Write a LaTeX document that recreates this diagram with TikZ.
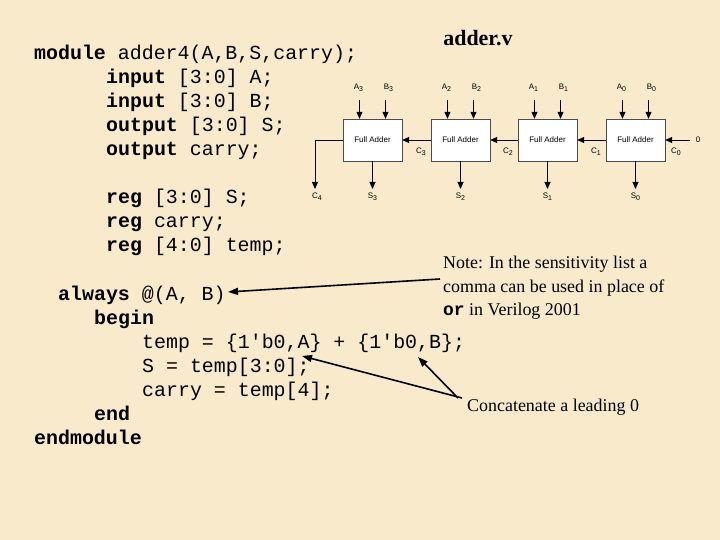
\documentclass[tikz,border=0pt]{standalone}
\usepackage{fontspec}
\setmainfont{Liberation Serif}
\setmonofont{Liberation Mono}
\setsansfont{Liberation Sans}
\usetikzlibrary{positioning}
\usetikzlibrary{arrows.meta}
\definecolor{paper}{HTML}{F8EACB}
\tikzset{
  fa/.style={draw=black!70, fill=white, minimum width=59bp, minimum height=42bp, font=\sffamily\fontsize{8}{8}\selectfont},
  sig/.style={font=\sffamily\fontsize{8}{8}\selectfont, inner sep=1pt},
  wire/.style={-{Triangle[length=7bp,width=6bp]}, line width=0.8bp},
  code/.style={anchor=base west, font=\ttfamily\fontsize{20}{20}\selectfont, inner sep=0pt},
  note/.style={anchor=base west, font=\fontsize{18}{18}\selectfont, inner sep=0pt},
  pointer/.style={-{Triangle[length=10bp,width=7bp]}, line width=1.6bp}
}
\newcommand{\kw}[1]{\textbf{#1}}
\begin{document}
\begin{tikzpicture}[x=1bp,y=-1bp]
\fill[paper] (0,0) rectangle (720,540);
\useasboundingbox (0,0) rectangle (720,540);

%%%%%%%%%% Verilog code %%%%%%%%
\node[code] (l1) at (34,60) {\kw{module} adder4(A,B,S,carry);};
\node[code] (l2) at (106,84) {\kw{input} [3:0] A;};
\node[code] (l3) at (106,108) {\kw{input} [3:0] B;};
\node[code] (l4) at (106,132) {\kw{output} [3:0] S;};
\node[code] (l5) at (106,156) {\kw{output} carry;};
\node[code] (l6) at (106,204) {\kw{reg} [3:0] S;};
\node[code] (l7) at (106,228) {\kw{reg} carry;};
\node[code] (l8) at (106,252) {\kw{reg} [4:0] temp;};
\node[code] (l9) at (58,300) {\kw{always} @(A, B)};
\node[code] (l10) at (94,324) {\kw{begin}};
\node[code] (l11) at (142,348) {temp = \{1'b0,A\} + \{1'b0,B\};};
\node[code] (l12) at (142,372) {S = temp[3:0];};
\node[code] (l13) at (142,396) {carry = temp[4];};
\node[code] (l14) at (94,420) {\kw{end}};
\node[code] (l15) at (34,444) {\kw{endmodule}};

%%%%%%%%%% Title and notes %%%%%%%%
\node[font=\bfseries\fontsize{22}{22}\selectfont] (title) at (478,38) {adder.v};
\node[note] (note1) at (443,269) {Note: In the sensitivity list a};
\node[note] (note2) at (443,292) {comma can be used in place of};
\node[note] (note3) at (443,315) {{\ttfamily\bfseries or} in Verilog 2001};
\node[note] (cat) at (467,411) {Concatenate a leading 0};

\coordinate (n1) at (440,279);
\coordinate (n2) at (228,292);
\coordinate (c0) at (462,398);
\coordinate (c1) at (302,356);
\coordinate (c2) at (458,398);
\coordinate (c3) at (418,357);
\draw[pointer] (n1) -- (n2);
\draw[pointer] (c0) -- (c1);
\draw[pointer] (c2) -- (c3);

%%%%%%%%%% Ripple carry adder %%%%%%%%
\foreach \i/\x in {3/372.5,2/460.5,1/547.5,0/635.5}{
  \node[fa] (fa\i) at (\x,140) {Full Adder};
  \coordinate (a\i) at ([xshift=-13bp]\x,100);
  \coordinate (b\i) at ([xshift=13bp]\x,100);
  \coordinate (s\i) at (\x,189);
  \draw[wire] (a\i) -- (a\i |- fa\i.north);
  \draw[wire] (b\i) -- (b\i |- fa\i.north);
  \draw[wire] (fa\i.south) -- (s\i);
  \node[sig] (la\i) at ([xshift=-1bp,yshift=12bp]a\i) {A\raisebox{-2bp}{\scriptsize\i}};
  \node[sig] (lb\i) at ([xshift=3bp,yshift=12bp]b\i) {B\raisebox{-2bp}{\scriptsize\i}};
  \node[sig] (ls\i) at ([yshift=-8bp]s\i) {S\raisebox{-2bp}{\scriptsize\i}};
}
\draw[wire] (fa2.west) -- (fa3.east);
\draw[wire] (fa1.west) -- (fa2.east);
\draw[wire] (fa0.west) -- (fa1.east);
\coordinate (cin) at (690,140);
\node[sig] (zero) at (698,140) {0};
\draw[wire] (cin) -- (fa0.east);
\coordinate (c4) at (315,189);
\draw[wire] (fa3.west) -| (c4);
\node[sig] (lc4) at (317,197) {C\raisebox{-2bp}{\scriptsize 4}};
\node[sig] (lc3) at (421,152) {C\raisebox{-2bp}{\scriptsize 3}};
\node[sig] (lc2) at (508,152) {C\raisebox{-2bp}{\scriptsize 2}};
\node[sig] (lc1) at (596,152) {C\raisebox{-2bp}{\scriptsize 1}};
\node[sig] (lc0) at (676,152) {C\raisebox{-2bp}{\scriptsize 0}};
\end{tikzpicture}
\end{document}
